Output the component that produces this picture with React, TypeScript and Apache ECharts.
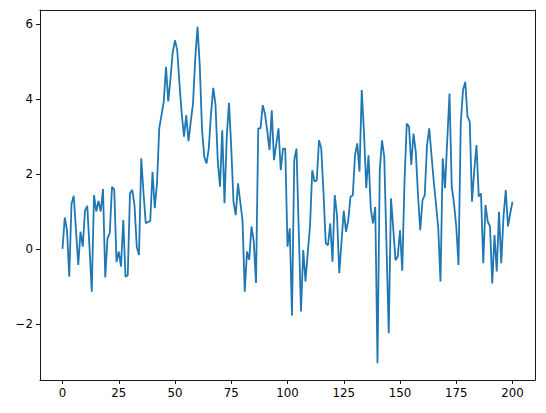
import React, { useEffect, useRef } from 'react';
import * as echarts from 'echarts';

// values, one per step from 0 to 200
const seriesValues = [
  0.0, 0.84, 0.5, -0.74, 1.2, 1.42, 0.5, -0.43, 0.46, 0.06,
  1.02, 1.15, 0.05, -1.14, 1.44, 1.0, 1.28, 1.0, 1.6, -0.76,
  0.28, 0.42, 1.66, 1.58, -0.35, -0.07, -0.47, 0.77, -0.74, -0.7,
  1.49, 1.58, 1.17, 0.06, -0.16, 2.42, 1.5, 0.69, 0.72, 0.74,
  2.06, 1.09, 1.75, 3.22, 3.57, 3.93, 4.86, 3.94, 4.55, 5.26,
  5.57, 5.3, 4.4, 3.6, 3.0, 3.57, 2.88, 3.4, 3.88, 5.08,
  5.93, 4.9, 3.2, 2.46, 2.28, 2.68, 3.6, 4.3, 3.85, 2.35,
  1.66, 3.17, 1.22, 3.0, 3.9, 2.7, 1.26, 0.9, 1.75, 1.26,
  0.77, -1.14, -0.07, -0.29, 0.6, 0.2, -0.91, 3.22, 3.22, 3.84,
  3.6, 3.15, 2.64, 3.7, 2.37, 2.8, 3.22, 2.1, 2.68, 2.68,
  0.06, 0.55, -1.78, 2.37, 2.68, 0.5, -1.67, -0.03, -0.87, -0.1,
  0.6, 2.1, 1.8, 1.83, 2.9, 2.68, 1.5, 0.15, 0.1, 0.68,
  -0.34, 1.44, 0.9, -0.65, 0.18, 1.02, 0.46, 0.77, 1.39, 1.43,
  2.5, 2.82, 2.06, 4.24, 3.1, 1.62, 2.5, 1.08, 0.68, 1.12,
  -3.05, 2.1, 2.9, 2.46, 0.1, -2.25, 1.35, 0.55, -0.3, -0.2,
  0.5, -0.58, 1.8, 3.35, 3.27, 2.24, 3.08, 2.6, 1.44, 0.5,
  1.3, 1.44, 2.77, 3.22, 2.5, 1.8, 1.2, 0.55, -0.87, 2.42,
  1.62, 2.9, 4.15, 1.66, 1.22, 0.6, -0.43, 3.35, 4.24, 4.46,
  3.53, 3.4, 1.26, 2.1, 2.77, 1.4, 1.48, -0.38, 1.17, 0.73,
  0.6, -0.92, 0.37, -0.6, 0.99, -0.38, 0.86, 1.57, 0.6, 0.95,
  1.26,
];

const xTicks = [0, 25, 50, 75, 100, 125, 150, 175, 200];
const yTicks = [-2, 0, 2, 4, 6];

const App: React.FC = () => {
  const chartRef = useRef<HTMLDivElement>(null);

  useEffect(() => {
    if (!chartRef.current) return;
    const chart = echarts.init(chartRef.current, null, { renderer: 'svg' });

    const n = seriesValues.length - 1;
    const ymin = Math.min(...seriesValues);
    const ymax = Math.max(...seriesValues);
    const ypad = (ymax - ymin) * 0.05;

    const labelStyle = {
      color: '#000',
      fontSize: 11.8,
      fontFamily: 'DejaVu Sans',
    };
    const spine = { show: true, onZero: false, lineStyle: { color: '#000', width: 0.9 } };
    const tick = (vals: number[]) => ({
      show: true,
      inside: false,
      length: 4,
      lineStyle: { color: '#000', width: 0.9 },
      customValues: vals,
    });
    const fmt = (v: number) => String(v).replace('-', '\u2212');

    const xRange = { type: 'value', min: -n * 0.05, max: n * 1.05, splitLine: { show: false } };
    const yRange = { type: 'value', min: ymin - ypad, max: ymax + ypad, splitLine: { show: false } };

    chart.setOption({
      animation: false,
      backgroundColor: '#fff',
      grid: { left: 40, right: 11, top: 10, bottom: 33 },
      xAxis: [
        {
          ...xRange,
          position: 'bottom',
          axisLine: spine,
          axisTick: tick(xTicks),
          axisLabel: { ...labelStyle, margin: 7, customValues: xTicks, formatter: fmt },
        },
        {
          ...xRange,
          position: 'top',
          axisLine: spine,
          axisTick: { show: false },
          axisLabel: { show: false },
        },
      ],
      yAxis: [
        {
          ...yRange,
          position: 'left',
          axisLine: spine,
          axisTick: tick(yTicks),
          axisLabel: { ...labelStyle, margin: 7, customValues: yTicks, formatter: fmt },
        },
        {
          ...yRange,
          position: 'right',
          axisLine: spine,
          axisTick: { show: false },
          axisLabel: { show: false },
        },
      ],
      series: [
        {
          type: 'line',
          xAxisIndex: 0,
          yAxisIndex: 0,
          data: seriesValues.map((v, i) => [i, v]),
          showSymbol: false,
          lineStyle: { color: '#1f77b4', width: 1.8 },
          itemStyle: { color: '#1f77b4' },
        },
      ],
    });

    return () => {
      chart.dispose();
    };
  }, []);

  return (
    <div
      ref={chartRef}
      style={{ position: 'fixed', left: 0, top: 0, width: '546px', height: '413px' }}
    ></div>
  );
};

export default App;
